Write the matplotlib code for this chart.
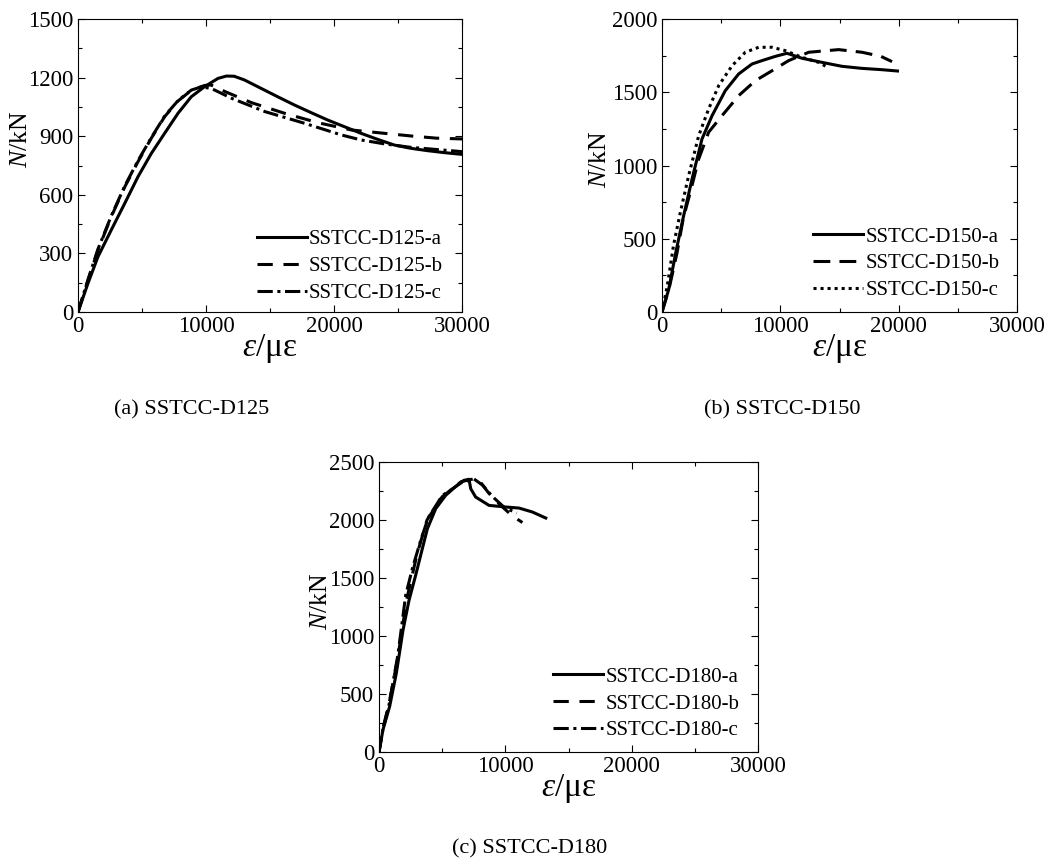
import matplotlib.pyplot as plt
from matplotlib.ticker import MultipleLocator

plt.rcParams['font.family'] = 'Liberation Serif'
plt.rcParams['mathtext.fontset'] = 'custom'
plt.rcParams['mathtext.rm'] = 'Liberation Serif'
plt.rcParams['mathtext.it'] = 'Liberation Serif:italic'

# ---- (a) SSTCC-D125 ----
d125_a_x = [0, 780, 1560, 2600, 3650, 4690, 5730, 6770, 7810, 8850, 9900, 10940, 11600,
            12200, 13000, 14300, 15600, 16900, 18200, 19500, 20800, 22100, 23400, 24700,
            26000, 27300, 28600, 30000]
d125_a_y = [0, 147, 283, 420, 556, 693, 812, 915, 1017, 1102, 1154, 1196, 1208,
            1207, 1188, 1145, 1102, 1060, 1021, 983, 949, 915, 884, 855,
            838, 826, 816, 807]
d125_b_x = [0, 800, 1560, 2600, 3650, 4690, 5730, 6770, 7810, 8850, 9900,
            10400, 11500, 13540, 16150, 18750, 21350, 23440, 26040, 28000, 30000]
d125_b_y = [0, 165, 317, 488, 640, 770, 890, 1000, 1080, 1135, 1160,
            1162, 1128, 1072, 1017, 969, 932, 918, 901, 890, 886]
d125_c_x = [0, 800, 1560, 2600, 3650, 4690, 5730, 6770, 7810, 8850, 9600,
            10400, 12000, 14600, 17700, 20600, 22100, 24000, 26000, 28000, 30000]
d125_c_y = [0, 170, 322, 492, 645, 775, 893, 1003, 1082, 1136, 1152,
            1145, 1094, 1026, 966, 906, 881, 860, 843, 832, 821]

# ---- (b) SSTCC-D150 ----
d150_a_x = [0, 560, 1200, 1830, 2540, 3380, 4230, 5350, 6480, 7610, 8450, 9580, 10560,
            11830, 13520, 15210, 16900, 18590, 19900]
d150_a_y = [0, 152, 420, 658, 908, 1181, 1340, 1511, 1625, 1693, 1716, 1745, 1766,
            1732, 1704, 1677, 1663, 1654, 1645]
d150_b_x = [0, 600, 1265, 1800, 2390, 3100, 3940, 5070, 6480, 7890, 9300, 10700,
            12400, 14930, 16900, 18500, 19440]
d150_b_y = [0, 160, 402, 640, 817, 1044, 1227, 1340, 1477, 1579, 1647, 1716,
            1773, 1791, 1773, 1745, 1709]
d150_c_x = [0, 450, 984, 1550, 2250, 3100, 3940, 4790, 5920, 7040, 8170, 9300,
            10420, 11830, 13240, 14000]
d150_c_y = [0, 180, 460, 680, 930, 1203, 1386, 1545, 1681, 1773, 1807, 1807,
            1784, 1738, 1704, 1670]

# ---- (c) SSTCC-D180 ----
d180_a_x = [0, 317, 846, 1375, 1900, 2375, 2900, 3430, 3830, 4490, 5280, 6330, 6730,
            7125, 7260, 7650, 8710, 10030, 11080, 12140, 13200]
d180_a_y = [0, 193, 394, 681, 1050, 1307, 1523, 1753, 1925, 2098, 2213, 2313, 2342,
            2351, 2270, 2198, 2126, 2112, 2103, 2069, 2017]
d180_b_x = [0, 300, 800, 1500, 2200, 3000, 3800, 5000, 6500, 7785, 8700, 9600,
            10500, 11350]
d180_b_y = [0, 200, 420, 820, 1320, 1700, 2000, 2200, 2330, 2362, 2230, 2130,
            2040, 1978]
d180_c_x = [0, 300, 800, 1500, 2111, 2640, 3300, 3900, 5000, 6500, 7500, 8200,
            9000, 9900, 10900]
d180_c_y = [0, 190, 410, 840, 1351, 1581, 1825, 2020, 2210, 2320, 2355, 2300,
            2200, 2110, 2060]

W, H = 1064, 865
fig = plt.figure(figsize=(W / 100, H / 100), dpi=100)


def add_ax(l, t, r, b):
    return fig.add_axes([l / W, 1 - b / H, (r - l) / W, (b - t) / H])


def style(ax, ymax, ymaj, ymin, lab_x, lab_y):
    ax.set_xlim(0, 30000)
    ax.set_ylim(0, ymax)
    ax.xaxis.set_major_locator(MultipleLocator(10000))
    ax.xaxis.set_minor_locator(MultipleLocator(5000))
    ax.yaxis.set_major_locator(MultipleLocator(ymaj))
    ax.yaxis.set_minor_locator(MultipleLocator(ymin))
    ax.tick_params(which='both', direction='in', top=True, right=True, labelsize=16.5)
    ax.tick_params(axis='x', pad=3)
    ax.tick_params(axis='y', pad=3.5)
    ax.tick_params(which='major', length=5, width=0.8)
    ax.tick_params(which='minor', length=3, width=0.8)
    ax.set_xlabel(r'$\varepsilon$/με', fontsize=24, labelpad=-4)
    ax.set_ylabel(r'$N$/kN', fontsize=18.5)
    ax.yaxis.set_label_coords(lab_x, lab_y)


def legend(ax, x, y):
    ax.legend(loc='lower right', bbox_to_anchor=(x, y), frameon=False, fontsize=15,
              handlelength=2.4, handletextpad=0.1, labelspacing=0.35,
              borderpad=0, borderaxespad=0)


lw = 2.2

ax1 = add_ax(78, 19, 462, 312)
ax1.plot(d125_a_x, d125_a_y, color='black', lw=lw, label='SSTCC-D125-a')
ax1.plot(d125_b_x, d125_b_y, color='black', lw=lw, dashes=(5, 3.5), label='SSTCC-D125-b')
ax1.plot(d125_c_x, d125_c_y, color='black', lw=lw, dashes=(5, 1.5, 1, 1.5), label='SSTCC-D125-c')
style(ax1, 1500, 300, 150, -0.12, 0.59)
legend(ax1, 0.95, 0.03)

ax2 = add_ax(662, 19, 1017, 312)
ax2.plot(d150_a_x, d150_a_y, color='black', lw=lw, label='SSTCC-D150-a')
ax2.plot(d150_b_x, d150_b_y, color='black', lw=lw, dashes=(5.5, 3), label='SSTCC-D150-b')
ax2.plot(d150_c_x, d150_c_y, color='black', lw=lw, dashes=(1, 1.3), label='SSTCC-D150-c')
style(ax2, 2000, 500, 250, -0.145, 0.52)
legend(ax2, 0.95, 0.04)

ax3 = add_ax(379, 462, 758, 752)
ax3.plot(d180_a_x, d180_a_y, color='black', lw=lw, label='SSTCC-D180-a')
ax3.plot(d180_b_x, d180_b_y, color='black', lw=lw, dashes=(5, 3.5), label='SSTCC-D180-b')
ax3.plot(d180_c_x, d180_c_y, color='black', lw=lw, dashes=(5, 1.5, 1, 1.5), label='SSTCC-D180-c')
style(ax3, 2500, 500, 250, -0.125, 0.52)
legend(ax3, 0.95, 0.04)

fig.text(192 / W, 1 - 410 / H, '(a) SSTCC-D125', ha='center', va='center', fontsize=16)
fig.text(782 / W, 1 - 410 / H, '(b) SSTCC-D150', ha='center', va='center', fontsize=16)
fig.text(530 / W, 1 - 849 / H, '(c) SSTCC-D180', ha='center', va='center', fontsize=16)

fig.savefig('out.png', dpi=100)
